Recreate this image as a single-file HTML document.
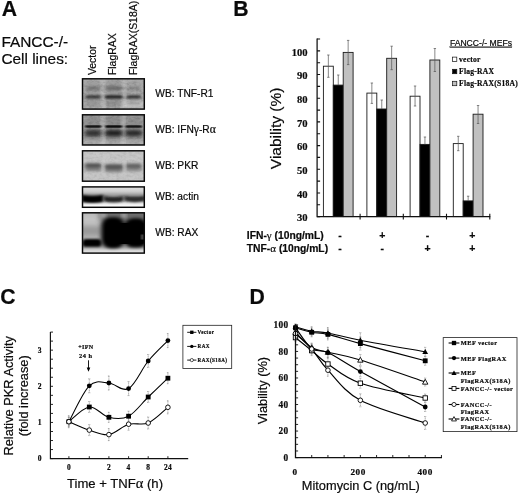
<!DOCTYPE html>
<html lang="en"><head><meta charset="utf-8"><title>Figure</title>
<style>html,body{margin:0;padding:0;background:#fff}svg{display:block;will-change:transform;filter:blur(0.3px)}text{fill:#0a0a0a;stroke:#0a0a0a;stroke-width:.2px}</style>
</head><body>
<svg width="520" height="495" viewBox="0 0 520 495">
<rect width="520" height="495" fill="#fff"/>
<defs><linearGradient id="g3" x1="0" y1="0" x2="0" y2="1"><stop offset="0" stop-color="#dcdcdc"/><stop offset="0.35" stop-color="#cfcfcf"/><stop offset="0.8" stop-color="#e8e8e8"/><stop offset="1" stop-color="#f2f2f2"/></linearGradient></defs>
<g id="panelA">
<text x="1.7" y="15.8" font-family='"Liberation Sans", sans-serif' font-weight="bold" font-size="21.2">A</text>
<text x="1.4" y="46.7" font-family='"Liberation Sans", sans-serif' font-size="15.4">FANCC-/-</text>
<text x="1.4" y="63.9" font-family='"Liberation Sans", sans-serif' font-size="15.4">Cell lines:</text>
<text transform="translate(95.6 75.1) rotate(-90)" font-family='"Liberation Sans", sans-serif' font-size="10.45">Vector</text>
<text transform="translate(116.1 75.1) rotate(-90)" font-family='"Liberation Sans", sans-serif' font-size="10.45">FlagRAX</text>
<text transform="translate(136.9 75.1) rotate(-90)" font-family='"Liberation Sans", sans-serif' font-size="10.45">FlagRAX(S18A)</text>
<text x="155.3" y="97.3" font-family='"Liberation Sans", sans-serif' font-size="10.2">WB: TNF-R1</text>
<text x="155.3" y="132.6" font-family='"Liberation Sans", sans-serif' font-size="10.2">WB: IFN<tspan font-family='"Liberation Serif", serif' font-size="11.6">γ</tspan>-R<tspan font-family='"Liberation Serif", serif' font-size="11.6">α</tspan></text>
<text x="155.3" y="169.0" font-family='"Liberation Sans", sans-serif' font-size="10.2">WB: PKR</text>
<text x="155.3" y="199.9" font-family='"Liberation Sans", sans-serif' font-size="10.2">WB: actin</text>
<text x="155.3" y="236.2" font-family='"Liberation Sans", sans-serif' font-size="10.2">WB: RAX</text>
<defs>
<filter id="b0" x="-40%" y="-300%" width="180%" height="700%"><feGaussianBlur stdDeviation="1.2 0.55"/></filter>
<filter id="b1" x="-40%" y="-300%" width="180%" height="700%"><feGaussianBlur stdDeviation="1.6 0.9"/></filter>
<filter id="b2" x="-40%" y="-300%" width="180%" height="700%"><feGaussianBlur stdDeviation="1.9 1.5"/></filter>
<filter id="b3" x="-40%" y="-300%" width="180%" height="700%"><feGaussianBlur stdDeviation="2.4 2.4"/></filter>
<filter id="b4" x="-40%" y="-300%" width="180%" height="700%"><feGaussianBlur stdDeviation="3.5 3.5"/></filter>
<filter id="bv" x="-40%" y="-300%" width="180%" height="700%"><feGaussianBlur stdDeviation="1.6 3.0"/></filter>
<filter id="nzd" x="0" y="0" width="100%" height="100%"><feTurbulence type="fractalNoise" baseFrequency="0.3 0.4" numOctaves="2" seed="11"/><feColorMatrix type="matrix" values="0 0 0 0 0  0 0 0 0 0  0 0 0 0 0  1.5 0 0 0 -0.58"/></filter>
<filter id="nzl" x="0" y="0" width="100%" height="100%"><feTurbulence type="fractalNoise" baseFrequency="0.28 0.38" numOctaves="2" seed="29"/><feColorMatrix type="matrix" values="0 0 0 0 1  0 0 0 0 1  0 0 0 0 1  0 1.5 0 0 -0.6"/></filter>
<clipPath id="cb0"><rect x="82.5" y="78.8" width="61.8" height="30.3"/></clipPath>
<clipPath id="cb1"><rect x="82.5" y="114.8" width="61.8" height="30.2"/></clipPath>
<clipPath id="cb2"><rect x="82.5" y="150.8" width="61.8" height="30.4"/></clipPath>
<clipPath id="cb3"><rect x="82.5" y="186.9" width="61.8" height="20.4"/></clipPath>
<clipPath id="cb4"><rect x="82.5" y="212.8" width="61.8" height="40.3"/></clipPath>
</defs>
<rect x="82.5" y="78.8" width="61.8" height="30.3" fill="#b0b0b0"/>
<g clip-path="url(#cb0)">
<rect x="82.5" y="78.8" width="61.8" height="30.3" filter="url(#nzd)" opacity="0.22"/>
<rect x="82.5" y="78.8" width="61.8" height="30.3" filter="url(#nzl)" opacity="0.2"/>
<rect x="85.2" y="78.8" width="16" height="30.3" fill="#6e6e6e" opacity="0.25" filter="url(#b3)"/>
<rect x="105.8" y="78.8" width="16" height="30.3" fill="#6e6e6e" opacity="0.32" filter="url(#b3)"/>
<rect x="125.6" y="78.8" width="16" height="30.3" fill="#6e6e6e" opacity="0.18" filter="url(#b3)"/>
<rect x="101.6" y="78.8" width="2.8" height="30.3" fill="#fff" opacity="0.3" filter="url(#b2)"/>
<rect x="123.0" y="78.8" width="2.8" height="30.3" fill="#fff" opacity="0.3" filter="url(#b2)"/>
<rect x="122" y="101" width="24" height="9" fill="#fff" opacity="0.25" filter="url(#b3)"/>
<rect x="85.95" y="86.8" width="14.5" height="3" rx="1.5" fill="#444" opacity="0.6" filter="url(#b2)"/>
<rect x="85.45" y="95.3" width="15.5" height="3.2" rx="1.6" fill="#1c1c1c" opacity="0.8" filter="url(#b1)"/>
<rect x="86.45" y="101.5" width="13.5" height="3" rx="1.5" fill="#606060" opacity="0.2" filter="url(#b2)"/>
<rect x="105.05" y="86.8" width="17.5" height="3" rx="1.5" fill="#444" opacity="0.75" filter="url(#b2)"/>
<rect x="104.55" y="95.3" width="18.5" height="3.2" rx="1.6" fill="#1c1c1c" opacity="0.97" filter="url(#b1)"/>
<rect x="105.55" y="101.5" width="16.5" height="3" rx="1.5" fill="#606060" opacity="0.3" filter="url(#b2)"/>
<rect x="126.85" y="86.8" width="13.5" height="3" rx="1.5" fill="#444" opacity="0.4" filter="url(#b2)"/>
<rect x="126.35" y="95.3" width="14.5" height="3.2" rx="1.6" fill="#1c1c1c" opacity="0.85" filter="url(#b1)"/>
<rect x="127.35" y="101.5" width="12.5" height="3" rx="1.5" fill="#606060" opacity="0.12" filter="url(#b2)"/>
</g>
<rect x="82.5" y="78.8" width="61.8" height="30.3" fill="none" stroke="#080808" stroke-width="1.45"/>
<rect x="82.5" y="114.8" width="61.8" height="30.2" fill="#a2a2a2"/>
<g clip-path="url(#cb1)">
<rect x="82.5" y="114.8" width="61.8" height="30.2" filter="url(#nzd)" opacity="0.22"/>
<rect x="82.5" y="114.8" width="61.8" height="30.2" filter="url(#nzl)" opacity="0.18"/>
<rect x="84.9" y="114.8" width="16.6" height="30.2" fill="#5c5c5c" opacity="0.3" filter="url(#b3)"/>
<rect x="105.5" y="114.8" width="16.6" height="30.2" fill="#5c5c5c" opacity="0.36" filter="url(#b3)"/>
<rect x="125.3" y="114.8" width="16.6" height="30.2" fill="#5c5c5c" opacity="0.3" filter="url(#b3)"/>
<rect x="101.5" y="114.8" width="2.8" height="30.2" fill="#fff" opacity="0.38" filter="url(#b2)"/>
<rect x="122.0" y="114.8" width="2.8" height="30.2" fill="#fff" opacity="0.38" filter="url(#b2)"/>
<rect x="82.5" y="139.5" width="61.8" height="6" fill="#fff" opacity="0.22" filter="url(#b2)"/>
<rect x="85.2" y="130.1" width="16" height="6.2" rx="2" fill="#1e1e1e" opacity="0.8" filter="url(#b2)"/>
<rect x="85.2" y="125.25" width="16" height="2.5" rx="1.25" fill="#0c0c0c" opacity="0.92" filter="url(#b0)"/>
<rect x="105.3" y="130.1" width="17" height="6.2" rx="2" fill="#1e1e1e" opacity="0.95" filter="url(#b2)"/>
<rect x="105.3" y="125.25" width="17" height="2.5" rx="1.25" fill="#0c0c0c" opacity="1" filter="url(#b0)"/>
<rect x="125.35" y="130.1" width="16.5" height="6.2" rx="2" fill="#1e1e1e" opacity="0.85" filter="url(#b2)"/>
<rect x="125.35" y="125.25" width="16.5" height="2.5" rx="1.25" fill="#0c0c0c" opacity="0.92" filter="url(#b0)"/>
</g>
<rect x="82.5" y="114.8" width="61.8" height="30.2" fill="none" stroke="#080808" stroke-width="1.45"/>
<rect x="82.5" y="150.8" width="61.8" height="30.4" fill="#c6c6c6"/>
<g clip-path="url(#cb2)">
<rect x="82.5" y="150.8" width="61.8" height="30.4" filter="url(#nzd)" opacity="0.1"/>
<rect x="82.5" y="150.8" width="61.8" height="30.4" filter="url(#nzl)" opacity="0.1"/>
<rect x="84.95" y="162.9" width="16.5" height="8" rx="2" fill="#6a6a6a" opacity="0.85" filter="url(#b2)"/>
<rect x="85.45" y="164.1" width="15.5" height="3.2" rx="1.6" fill="#484848" opacity="0.75" filter="url(#b1)"/>
<rect x="104.55" y="164.1" width="18.5" height="8" rx="2" fill="#6a6a6a" opacity="0.9" filter="url(#b2)"/>
<rect x="105.05" y="165.3" width="17.5" height="3.2" rx="1.6" fill="#484848" opacity="0.75" filter="url(#b1)"/>
<rect x="125.6" y="163.3" width="16" height="8" rx="2" fill="#6a6a6a" opacity="0.72" filter="url(#b2)"/>
<rect x="126.1" y="164.5" width="15" height="3.2" rx="1.6" fill="#484848" opacity="0.6" filter="url(#b1)"/>
<rect x="102.0" y="159" width="2.4" height="17" fill="#d0d0d0" opacity="0.55" filter="url(#b1)"/>
<rect x="123.39999999999999" y="159" width="2.4" height="17" fill="#d0d0d0" opacity="0.55" filter="url(#b1)"/>
</g>
<rect x="82.5" y="150.8" width="61.8" height="30.4" fill="none" stroke="#080808" stroke-width="1.45"/>
<rect x="82.5" y="186.9" width="61.8" height="20.4" fill="#e6e6e6"/>
<g clip-path="url(#cb3)">
<rect x="82.5" y="186.9" width="61.8" height="20.4" fill="url(#g3)"/>
<rect x="79.5" y="193.2" width="67.8" height="8" fill="#707070" opacity="0.55" filter="url(#b2)"/>
<path d="M81.65 194.8Q92.4 196.6 103.15 194.8L103.15 201.95Q92.4 204.2 81.65 201.95Z" fill="#050505" opacity="1" filter="url(#b1)"/>
<path d="M103.85 196Q113.6 198 123.35 196L123.35 201.3Q113.6 203.8 103.85 201.3Z" fill="#181818" opacity="0.9" filter="url(#b1)"/>
<path d="M124.55 195.65Q134.8 197.45 145.05 195.65L145.05 201.1Q134.8 203.35 124.55 201.1Z" fill="#1e1e1e" opacity="0.88" filter="url(#b1)"/>
<rect x="82.5" y="204.6" width="61.8" height="3.4" fill="#fff" opacity="0.6" filter="url(#b1)"/>
</g>
<rect x="82.5" y="186.9" width="61.8" height="20.4" fill="none" stroke="#080808" stroke-width="1.45"/>
<rect x="82.5" y="212.8" width="61.8" height="40.3" fill="#969696"/>
<g clip-path="url(#cb4)">
<rect x="78.5" y="210.8" width="24" height="30" fill="#cfcfcf" opacity="0.8" filter="url(#b4)"/>
<rect x="99" y="210.8" width="49" height="10" fill="#505050" opacity="0.6" filter="url(#b3)"/>
<rect x="101.5" y="212.8" width="4" height="5" fill="#fff" opacity="0.5" filter="url(#b2)"/>
<rect x="122.0" y="212.8" width="4" height="5" fill="#fff" opacity="0.5" filter="url(#b2)"/>
<rect x="79.5" y="248.6" width="67.8" height="7" fill="#e2e2e2" opacity="0.95" filter="url(#b2)"/>
<rect x="79.5" y="226" width="23" height="10" fill="#707070" opacity="0.5" filter="url(#b3)"/>
<rect x="82.2" y="239.0" width="19.4" height="7.8" rx="3.9" fill="#030303" filter="url(#b1)"/>
<rect x="101.4" y="217.2" width="23.6" height="31" rx="9" fill="#000" filter="url(#b2)"/>
<rect x="123.8" y="218.2" width="24" height="29.4" rx="9" fill="#000" filter="url(#b2)"/>
<rect x="105.5" y="223" width="41" height="21" rx="5" fill="#000"/>
<rect x="141.6" y="234.5" width="1.6" height="5" fill="#bbb" opacity="0.7" filter="url(#b0)"/>
</g>
<rect x="82.5" y="212.8" width="61.8" height="40.3" fill="none" stroke="#080808" stroke-width="1.45"/>
</g>
<g id="panelB">
<text x="233.3" y="15.9" font-family='"Liberation Sans", sans-serif' font-weight="bold" font-size="21.2">B</text>
<text transform="translate(281.3 128.4) rotate(-90)" text-anchor="middle" font-family='"Liberation Sans", sans-serif' font-size="15.5">Viability (%)</text>
<rect x="323.4" y="66.2" width="9.9" height="150.4" fill="#ffffff" stroke="#1a1a1a" stroke-width="0.9"/>
<rect x="333.3" y="85.1" width="9.9" height="131.5" fill="#000000" stroke="#1a1a1a" stroke-width="0.9"/>
<rect x="343.2" y="52.4" width="9.9" height="164.2" fill="#c0c0c0" stroke="#1a1a1a" stroke-width="0.9"/>
<path d="M328.35 55V77.3M327.15 55h2.4M327.15 77.3h2.4" stroke="#555" stroke-width="0.7" fill="none"/>
<path d="M338.25 75V85.1M337.05 75h2.4" stroke="#555" stroke-width="0.7" fill="none"/>
<path d="M348.15 40.4V64.6M346.95 40.4h2.4M346.95 64.6h2.4" stroke="#555" stroke-width="0.7" fill="none"/>
<rect x="366.9" y="93.1" width="9.9" height="123.5" fill="#ffffff" stroke="#1a1a1a" stroke-width="0.9"/>
<rect x="376.8" y="109" width="9.9" height="107.6" fill="#000000" stroke="#1a1a1a" stroke-width="0.9"/>
<rect x="386.7" y="58.3" width="9.9" height="158.3" fill="#c0c0c0" stroke="#1a1a1a" stroke-width="0.9"/>
<path d="M371.85 83V103.4M370.65 83h2.4M370.65 103.4h2.4" stroke="#555" stroke-width="0.7" fill="none"/>
<path d="M381.75 100V109M380.55 100h2.4" stroke="#555" stroke-width="0.7" fill="none"/>
<path d="M391.65 46.2V69.7M390.45 46.2h2.4M390.45 69.7h2.4" stroke="#555" stroke-width="0.7" fill="none"/>
<rect x="410.1" y="96.2" width="9.9" height="120.4" fill="#ffffff" stroke="#1a1a1a" stroke-width="0.9"/>
<rect x="420" y="144.4" width="9.9" height="72.2" fill="#000000" stroke="#1a1a1a" stroke-width="0.9"/>
<rect x="429.9" y="60" width="9.9" height="156.6" fill="#c0c0c0" stroke="#1a1a1a" stroke-width="0.9"/>
<path d="M415.05 86V106M413.85 86h2.4M413.85 106h2.4" stroke="#555" stroke-width="0.7" fill="none"/>
<path d="M424.95 137V144.4M423.75 137h2.4" stroke="#555" stroke-width="0.7" fill="none"/>
<path d="M434.85 48.5V71.5M433.65 48.5h2.4M433.65 71.5h2.4" stroke="#555" stroke-width="0.7" fill="none"/>
<rect x="453.3" y="143.6" width="9.9" height="73" fill="#ffffff" stroke="#1a1a1a" stroke-width="0.9"/>
<rect x="463.2" y="200.9" width="9.9" height="15.7" fill="#000000" stroke="#1a1a1a" stroke-width="0.9"/>
<rect x="473.1" y="114.2" width="9.9" height="102.4" fill="#c0c0c0" stroke="#1a1a1a" stroke-width="0.9"/>
<path d="M458.25 136.3V150.7M457.05 136.3h2.4M457.05 150.7h2.4" stroke="#555" stroke-width="0.7" fill="none"/>
<path d="M468.15 196.2V200.9M466.95 196.2h2.4" stroke="#555" stroke-width="0.7" fill="none"/>
<path d="M478.05 105.5V123.5M476.85 105.5h2.4M476.85 123.5h2.4" stroke="#555" stroke-width="0.7" fill="none"/>
<path d="M317.1 38.46V216.6H490.3" stroke="#111" stroke-width="1.25" fill="none"/>
<path d="M317.0 216.6h3.1M317.0 204.76h3.1M317.0 192.93h3.1M317.0 181.09h3.1M317.0 169.26h3.1M317.0 157.42h3.1M317.0 145.59h3.1M317.0 133.75h3.1M317.0 121.91h3.1M317.0 110.08h3.1M317.0 98.24h3.1M317.0 86.41h3.1M317.0 74.57h3.1M317.0 62.74h3.1M317.0 50.9h3.1M317.0 39.06h3.1" stroke="#111" stroke-width="1.1" fill="none"/>
<path d="M360.1 213.8v5.8M403.3 213.8v5.8M446.5 213.8v5.8M489.8 213.8v5.8" stroke="#111" stroke-width="1.1" fill="none"/>
<text x="307.6" y="221.2" text-anchor="end" font-family='"Liberation Serif", serif' font-weight="bold" font-size="10.6">30</text>
<text x="307.6" y="197.53" text-anchor="end" font-family='"Liberation Serif", serif' font-weight="bold" font-size="10.6">40</text>
<text x="307.6" y="173.86" text-anchor="end" font-family='"Liberation Serif", serif' font-weight="bold" font-size="10.6">50</text>
<text x="307.6" y="150.19" text-anchor="end" font-family='"Liberation Serif", serif' font-weight="bold" font-size="10.6">60</text>
<text x="307.6" y="126.51" text-anchor="end" font-family='"Liberation Serif", serif' font-weight="bold" font-size="10.6">70</text>
<text x="307.6" y="102.84" text-anchor="end" font-family='"Liberation Serif", serif' font-weight="bold" font-size="10.6">80</text>
<text x="307.6" y="79.17" text-anchor="end" font-family='"Liberation Serif", serif' font-weight="bold" font-size="10.6">90</text>
<text x="307.6" y="55.5" text-anchor="end" font-family='"Liberation Serif", serif' font-weight="bold" font-size="10.6">100</text>
<text x="246.8" y="239.4" font-family='"Liberation Sans", sans-serif' font-weight="bold" font-size="10.3">IFN-<tspan font-family='"Liberation Serif", serif' font-weight="normal" font-size="11">γ</tspan> (10ng/mL)</text>
<text x="246.8" y="252.3" font-family='"Liberation Sans", sans-serif' font-weight="bold" font-size="10.3">TNF-<tspan font-family='"Liberation Serif", serif' font-weight="normal" font-size="11">α</tspan> (10ng/mL)</text>
<text x="340.0" y="239.3" text-anchor="middle" font-family='"Liberation Sans", sans-serif' font-weight="bold" font-size="10.5">-</text>
<text x="340.0" y="252.2" text-anchor="middle" font-family='"Liberation Sans", sans-serif' font-weight="bold" font-size="10.5">-</text>
<text x="382.3" y="239.3" text-anchor="middle" font-family='"Liberation Sans", sans-serif' font-weight="bold" font-size="10.5">+</text>
<text x="382.3" y="252.2" text-anchor="middle" font-family='"Liberation Sans", sans-serif' font-weight="bold" font-size="10.5">-</text>
<text x="427.6" y="239.3" text-anchor="middle" font-family='"Liberation Sans", sans-serif' font-weight="bold" font-size="10.5">-</text>
<text x="427.6" y="252.2" text-anchor="middle" font-family='"Liberation Sans", sans-serif' font-weight="bold" font-size="10.5">+</text>
<text x="472.2" y="239.3" text-anchor="middle" font-family='"Liberation Sans", sans-serif' font-weight="bold" font-size="10.5">+</text>
<text x="472.2" y="252.2" text-anchor="middle" font-family='"Liberation Sans", sans-serif' font-weight="bold" font-size="10.5">+</text>
<text x="449.9" y="45.7" font-family='"Liberation Sans", sans-serif' font-size="8.6" text-decoration="underline">FANCC-/- MEFs</text>
<rect x="452.6" y="57.1" width="4.2" height="4.4" fill="#fff" stroke="#111" stroke-width="0.7"/>
<text x="459.0" y="61.9" font-family='"Liberation Serif", serif' font-weight="bold" font-size="7.6" letter-spacing="0.24" stroke="#000" stroke-width="0.12">vector</text>
<rect x="452.6" y="69.3" width="4.2" height="4.4" fill="#000" stroke="#111" stroke-width="0.7"/>
<text x="459.0" y="74.1" font-family='"Liberation Serif", serif' font-weight="bold" font-size="7.6" letter-spacing="0.24" stroke="#000" stroke-width="0.12">Flag-RAX</text>
<rect x="452.6" y="81.3" width="4.2" height="4.4" fill="#c0c0c0" stroke="#111" stroke-width="0.7"/>
<text x="459.0" y="86.1" font-family='"Liberation Serif", serif' font-weight="bold" font-size="7.6" letter-spacing="0.24" stroke="#000" stroke-width="0.12">Flag-RAX(S18A)</text>
</g>
<g id="panelC">
<text x="0.2" y="304.0" font-family='"Liberation Sans", sans-serif' font-weight="bold" font-size="21.2">C</text>
<text transform="translate(12.6 395.8) rotate(-90)" text-anchor="middle" font-family='"Liberation Sans", sans-serif' font-size="12.8">Relative PKR Activity</text>
<text transform="translate(28.4 395.8) rotate(-90)" text-anchor="middle" font-family='"Liberation Sans", sans-serif' font-size="12.8">(fold increase)</text>
<path d="M68.9 417.2V426.2M67.9 417.2h2M67.9 426.2h2" stroke="#8e8e8e" stroke-width="0.75" stroke-dasharray="1.1 0.5" fill="none"/>
<path d="M89.3 401.5V412.5M88.3 401.5h2M88.3 412.5h2" stroke="#8e8e8e" stroke-width="0.75" stroke-dasharray="1.1 0.5" fill="none"/>
<path d="M108.9 412.3V422.3M107.9 412.3h2M107.9 422.3h2" stroke="#8e8e8e" stroke-width="0.75" stroke-dasharray="1.1 0.5" fill="none"/>
<path d="M128.6 411.2V421.2M127.6 411.2h2M127.6 421.2h2" stroke="#8e8e8e" stroke-width="0.75" stroke-dasharray="1.1 0.5" fill="none"/>
<path d="M148.2 391.5V402.5M147.2 391.5h2M147.2 402.5h2" stroke="#8e8e8e" stroke-width="0.75" stroke-dasharray="1.1 0.5" fill="none"/>
<path d="M167.9 372.7V383.7M166.9 372.7h2M166.9 383.7h2" stroke="#8e8e8e" stroke-width="0.75" stroke-dasharray="1.1 0.5" fill="none"/>
<path d="M68.9 417.2V426.2M67.9 417.2h2M67.9 426.2h2" stroke="#8e8e8e" stroke-width="0.75" stroke-dasharray="1.1 0.5" fill="none"/>
<path d="M89.3 378.8V392.8M88.3 378.8h2M88.3 392.8h2" stroke="#8e8e8e" stroke-width="0.75" stroke-dasharray="1.1 0.5" fill="none"/>
<path d="M108.9 376V390M107.9 376h2M107.9 390h2" stroke="#8e8e8e" stroke-width="0.75" stroke-dasharray="1.1 0.5" fill="none"/>
<path d="M128.6 381.6V395.6M127.6 381.6h2M127.6 395.6h2" stroke="#8e8e8e" stroke-width="0.75" stroke-dasharray="1.1 0.5" fill="none"/>
<path d="M148.2 354.5V367.5M147.2 354.5h2M147.2 367.5h2" stroke="#8e8e8e" stroke-width="0.75" stroke-dasharray="1.1 0.5" fill="none"/>
<path d="M167.9 333.6V347.6M166.9 333.6h2M166.9 347.6h2" stroke="#8e8e8e" stroke-width="0.75" stroke-dasharray="1.1 0.5" fill="none"/>
<path d="M68.9 415.7V427.7M67.9 415.7h2M67.9 427.7h2" stroke="#8e8e8e" stroke-width="0.75" stroke-dasharray="1.1 0.5" fill="none"/>
<path d="M89.3 424.6V435.6M88.3 424.6h2M88.3 435.6h2" stroke="#8e8e8e" stroke-width="0.75" stroke-dasharray="1.1 0.5" fill="none"/>
<path d="M108.9 428.6V440.6M107.9 428.6h2M107.9 440.6h2" stroke="#8e8e8e" stroke-width="0.75" stroke-dasharray="1.1 0.5" fill="none"/>
<path d="M128.6 418.2V430.2M127.6 418.2h2M127.6 430.2h2" stroke="#8e8e8e" stroke-width="0.75" stroke-dasharray="1.1 0.5" fill="none"/>
<path d="M148.2 417V429M147.2 417h2M147.2 429h2" stroke="#8e8e8e" stroke-width="0.75" stroke-dasharray="1.1 0.5" fill="none"/>
<path d="M167.9 400.8V413.8M166.9 400.8h2M166.9 413.8h2" stroke="#8e8e8e" stroke-width="0.75" stroke-dasharray="1.1 0.5" fill="none"/>
<path d="M68.9 421.7C72.3 419.25 82.63 407.73 89.3 407C95.97 406.27 102.35 415.77 108.9 417.3C115.45 418.83 122.05 419.58 128.6 416.2C135.15 412.82 141.65 403.33 148.2 397C154.75 390.67 164.62 381.33 167.9 378.2" stroke="#000" stroke-width="1.05" fill="none" stroke-linejoin="round"/>
<path d="M68.9 421.7C72.3 415.72 82.63 392.25 89.3 385.8C95.97 379.35 102.35 382.53 108.9 383C115.45 383.47 122.05 392.27 128.6 388.6C135.15 384.93 141.65 369 148.2 361C154.75 353 164.62 344 167.9 340.6" stroke="#000" stroke-width="1.05" fill="none" stroke-linejoin="round"/>
<path d="M68.9 421.7C72.3 423.1 82.63 427.95 89.3 430.1C95.97 432.25 102.35 435.58 108.9 434.6C115.45 433.62 122.05 426.13 128.6 424.2C135.15 422.27 141.65 425.82 148.2 423C154.75 420.18 164.62 409.92 167.9 407.3" stroke="#000" stroke-width="1.05" fill="none" stroke-linejoin="round"/>
<rect x="66.5" y="419.3" width="4.8" height="4.8" fill="#000"/>
<rect x="86.9" y="404.6" width="4.8" height="4.8" fill="#000"/>
<rect x="106.5" y="414.9" width="4.8" height="4.8" fill="#000"/>
<rect x="126.2" y="413.8" width="4.8" height="4.8" fill="#000"/>
<rect x="145.8" y="394.6" width="4.8" height="4.8" fill="#000"/>
<rect x="165.5" y="375.8" width="4.8" height="4.8" fill="#000"/>
<circle cx="68.9" cy="421.7" r="2.4" fill="#000"/>
<circle cx="89.3" cy="385.8" r="2.4" fill="#000"/>
<circle cx="108.9" cy="383" r="2.4" fill="#000"/>
<circle cx="128.6" cy="388.6" r="2.4" fill="#000"/>
<circle cx="148.2" cy="361" r="2.4" fill="#000"/>
<circle cx="167.9" cy="340.6" r="2.4" fill="#000"/>
<circle cx="68.9" cy="421.7" r="2.3" fill="#fff" stroke="#000" stroke-width="0.9"/>
<circle cx="89.3" cy="430.1" r="2.3" fill="#fff" stroke="#000" stroke-width="0.9"/>
<circle cx="108.9" cy="434.6" r="2.3" fill="#fff" stroke="#000" stroke-width="0.9"/>
<circle cx="128.6" cy="424.2" r="2.3" fill="#fff" stroke="#000" stroke-width="0.9"/>
<circle cx="148.2" cy="423" r="2.3" fill="#fff" stroke="#000" stroke-width="0.9"/>
<circle cx="167.9" cy="407.3" r="2.3" fill="#fff" stroke="#000" stroke-width="0.9"/>
<path d="M50.4 331.88V458.6H188.2" stroke="#111" stroke-width="1.15" fill="none"/>
<path d="M50.4 458.6h2.6M50.4 449.56h2.6M50.4 440.53h2.6M50.4 431.49h2.6M50.4 422.45h2.6M50.4 413.41h2.6M50.4 404.38h2.6M50.4 395.34h2.6M50.4 386.3h2.6M50.4 377.26h2.6M50.4 368.23h2.6M50.4 359.19h2.6M50.4 350.15h2.6M50.4 341.11h2.6M50.4 332.08h2.6M68.9 458.6v-2.4M89.3 458.6v-2.4M108.9 458.6v-2.4M128.6 458.6v-2.4M148.2 458.6v-2.4M167.9 458.6v-2.4" stroke="#111" stroke-width="0.9" fill="none"/>
<text x="39.6" y="461.1" text-anchor="middle" font-family='"Liberation Serif", serif' font-weight="bold" font-size="7.6">0</text>
<text x="39.6" y="424.95" text-anchor="middle" font-family='"Liberation Serif", serif' font-weight="bold" font-size="7.6">1</text>
<text x="39.6" y="388.8" text-anchor="middle" font-family='"Liberation Serif", serif' font-weight="bold" font-size="7.6">2</text>
<text x="39.6" y="352.65" text-anchor="middle" font-family='"Liberation Serif", serif' font-weight="bold" font-size="7.6">3</text>
<text x="68.9" y="470.0" text-anchor="middle" font-family='"Liberation Serif", serif' font-weight="bold" font-size="7.4" letter-spacing="0.3">0</text>
<text x="108.9" y="470.0" text-anchor="middle" font-family='"Liberation Serif", serif' font-weight="bold" font-size="7.4" letter-spacing="0.3">2</text>
<text x="128.6" y="470.0" text-anchor="middle" font-family='"Liberation Serif", serif' font-weight="bold" font-size="7.4" letter-spacing="0.3">4</text>
<text x="148.2" y="470.0" text-anchor="middle" font-family='"Liberation Serif", serif' font-weight="bold" font-size="7.4" letter-spacing="0.3">8</text>
<text x="167.9" y="470.0" text-anchor="middle" font-family='"Liberation Serif", serif' font-weight="bold" font-size="7.4" letter-spacing="0.3">24</text>
<text x="67.0" y="487.8" font-family='"Liberation Sans", sans-serif' font-size="13.1">Time + TNF<tspan font-family='"Liberation Serif", serif' font-size="14.5">α</tspan> (h)</text>
<text x="85.8" y="349.4" text-anchor="middle" font-family='"Liberation Serif", serif' font-weight="bold" font-size="6" letter-spacing="0.3">+IFN</text>
<text x="85.8" y="358.0" text-anchor="middle" font-family='"Liberation Serif", serif' font-weight="bold" font-size="6.4" letter-spacing="0.5">24 h</text>
<path d="M88.5 360.3V369.5" stroke="#000" stroke-width="0.9" fill="none"/><path d="M86.7 367.6L88.5 371.8L90.3 367.6Z" fill="#000"/>
<rect x="182.9" y="325.3" width="48.8" height="43.3" fill="#fff" stroke="#222" stroke-width="0.8"/>
<path d="M187.2 332.3H196.4" stroke="#000" stroke-width="0.9"/>
<rect x="190.12" y="330.62" width="3.36" height="3.36" fill="#000"/>
<text x="197.6" y="334" font-family='"Liberation Serif", serif' font-weight="bold" font-size="5.1" letter-spacing="0.42" stroke="#000" stroke-width="0.12">Vector</text>
<path d="M187.2 346.4H196.4" stroke="#000" stroke-width="0.9"/>
<circle cx="191.8" cy="346.4" r="1.68" fill="#000"/>
<text x="197.6" y="348.1" font-family='"Liberation Serif", serif' font-weight="bold" font-size="5.1" letter-spacing="0.42" stroke="#000" stroke-width="0.12">RAX</text>
<path d="M187.2 360.1H196.4" stroke="#000" stroke-width="0.9"/>
<circle cx="191.8" cy="360.1" r="1.61" fill="#fff" stroke="#000" stroke-width="0.63"/>
<text x="197.6" y="361.8" font-family='"Liberation Serif", serif' font-weight="bold" font-size="5.1" letter-spacing="0.42" stroke="#000" stroke-width="0.12">RAX(S18A)</text>
</g>
<g id="panelD">
<text x="249.6" y="303.5" font-family='"Liberation Sans", sans-serif' font-weight="bold" font-size="21.2">D</text>
<text transform="translate(267.2 390.6) rotate(-90)" text-anchor="middle" font-family='"Liberation Sans", sans-serif' font-size="12.8">Viability (%)</text>
<path d="M295.5 323.8V329.8M294.5 323.8h2M294.5 329.8h2" stroke="#8e8e8e" stroke-width="0.75" stroke-dasharray="1.1 0.5" fill="none"/>
<path d="M311.71 326.7V335.7M310.71 326.7h2M310.71 335.7h2" stroke="#8e8e8e" stroke-width="0.75" stroke-dasharray="1.1 0.5" fill="none"/>
<path d="M327.93 327.5V338.5M326.93 327.5h2M326.93 338.5h2" stroke="#8e8e8e" stroke-width="0.75" stroke-dasharray="1.1 0.5" fill="none"/>
<path d="M360.36 332.7V347.7M359.36 332.7h2M359.36 347.7h2" stroke="#8e8e8e" stroke-width="0.75" stroke-dasharray="1.1 0.5" fill="none"/>
<path d="M425.22 347.3V356.3M424.22 347.3h2M424.22 356.3h2" stroke="#8e8e8e" stroke-width="0.75" stroke-dasharray="1.1 0.5" fill="none"/>
<path d="M295.5 324.8V330.8M294.5 324.8h2M294.5 330.8h2" stroke="#8e8e8e" stroke-width="0.75" stroke-dasharray="1.1 0.5" fill="none"/>
<path d="M311.71 327.8V336.8M310.71 327.8h2M310.71 336.8h2" stroke="#8e8e8e" stroke-width="0.75" stroke-dasharray="1.1 0.5" fill="none"/>
<path d="M327.93 328.9V339.9M326.93 328.9h2M326.93 339.9h2" stroke="#8e8e8e" stroke-width="0.75" stroke-dasharray="1.1 0.5" fill="none"/>
<path d="M360.36 337.1V350.1M359.36 337.1h2M359.36 350.1h2" stroke="#8e8e8e" stroke-width="0.75" stroke-dasharray="1.1 0.5" fill="none"/>
<path d="M425.22 356.3V365.3M424.22 356.3h2M424.22 365.3h2" stroke="#8e8e8e" stroke-width="0.75" stroke-dasharray="1.1 0.5" fill="none"/>
<path d="M295.5 329.4V335.4M294.5 329.4h2M294.5 335.4h2" stroke="#8e8e8e" stroke-width="0.75" stroke-dasharray="1.1 0.5" fill="none"/>
<path d="M311.71 343.1V352.1M310.71 343.1h2M310.71 352.1h2" stroke="#8e8e8e" stroke-width="0.75" stroke-dasharray="1.1 0.5" fill="none"/>
<path d="M327.93 347.2V357.2M326.93 347.2h2M326.93 357.2h2" stroke="#8e8e8e" stroke-width="0.75" stroke-dasharray="1.1 0.5" fill="none"/>
<path d="M360.36 354.5V365.5M359.36 354.5h2M359.36 365.5h2" stroke="#8e8e8e" stroke-width="0.75" stroke-dasharray="1.1 0.5" fill="none"/>
<path d="M425.22 378V386M424.22 378h2M424.22 386h2" stroke="#8e8e8e" stroke-width="0.75" stroke-dasharray="1.1 0.5" fill="none"/>
<path d="M295.5 324.6V330.6M294.5 324.6h2M294.5 330.6h2" stroke="#8e8e8e" stroke-width="0.75" stroke-dasharray="1.1 0.5" fill="none"/>
<path d="M311.71 344.1V353.1M310.71 344.1h2M310.71 353.1h2" stroke="#8e8e8e" stroke-width="0.75" stroke-dasharray="1.1 0.5" fill="none"/>
<path d="M327.93 347.6V357.6M326.93 347.6h2M326.93 357.6h2" stroke="#8e8e8e" stroke-width="0.75" stroke-dasharray="1.1 0.5" fill="none"/>
<path d="M360.36 366.6V376.6M359.36 366.6h2M359.36 376.6h2" stroke="#8e8e8e" stroke-width="0.75" stroke-dasharray="1.1 0.5" fill="none"/>
<path d="M425.22 402.5V411.5M424.22 402.5h2M424.22 411.5h2" stroke="#8e8e8e" stroke-width="0.75" stroke-dasharray="1.1 0.5" fill="none"/>
<path d="M295.5 334.1V341.1M294.5 334.1h2M294.5 341.1h2" stroke="#8e8e8e" stroke-width="0.75" stroke-dasharray="1.1 0.5" fill="none"/>
<path d="M311.71 345.6V355.6M310.71 345.6h2M310.71 355.6h2" stroke="#8e8e8e" stroke-width="0.75" stroke-dasharray="1.1 0.5" fill="none"/>
<path d="M327.93 358V370M326.93 358h2M326.93 370h2" stroke="#8e8e8e" stroke-width="0.75" stroke-dasharray="1.1 0.5" fill="none"/>
<path d="M360.36 378.2V388.2M359.36 378.2h2M359.36 388.2h2" stroke="#8e8e8e" stroke-width="0.75" stroke-dasharray="1.1 0.5" fill="none"/>
<path d="M425.22 394V402M424.22 394h2M424.22 402h2" stroke="#8e8e8e" stroke-width="0.75" stroke-dasharray="1.1 0.5" fill="none"/>
<path d="M295.5 330V337M294.5 330h2M294.5 337h2" stroke="#8e8e8e" stroke-width="0.75" stroke-dasharray="1.1 0.5" fill="none"/>
<path d="M311.71 344V354M310.71 344h2M310.71 354h2" stroke="#8e8e8e" stroke-width="0.75" stroke-dasharray="1.1 0.5" fill="none"/>
<path d="M327.93 364.2V376.2M326.93 364.2h2M326.93 376.2h2" stroke="#8e8e8e" stroke-width="0.75" stroke-dasharray="1.1 0.5" fill="none"/>
<path d="M360.36 393.8V406.8M359.36 393.8h2M359.36 406.8h2" stroke="#8e8e8e" stroke-width="0.75" stroke-dasharray="1.1 0.5" fill="none"/>
<path d="M425.22 416.5V429.5M424.22 416.5h2M424.22 429.5h2" stroke="#8e8e8e" stroke-width="0.75" stroke-dasharray="1.1 0.5" fill="none"/>
<path d="M295.5 326.8C298.2 327.53 306.31 330.17 311.71 331.2C317.12 332.23 319.82 331.5 327.93 333C336.04 334.5 344.14 337.07 360.36 340.2C376.58 343.33 414.41 349.87 425.22 351.8" stroke="#000" stroke-width="1.15" fill="none" stroke-linejoin="round"/>
<path d="M295.5 327.8C298.2 328.55 306.31 331.2 311.71 332.3C317.12 333.4 319.82 332.52 327.93 334.4C336.04 336.28 344.14 339.2 360.36 343.6C376.58 348 414.41 357.93 425.22 360.8" stroke="#000" stroke-width="1.15" fill="none" stroke-linejoin="round"/>
<path d="M295.5 332.4C298.2 334.93 306.31 344.3 311.71 347.6C317.12 350.9 319.82 350.13 327.93 352.2C336.04 354.27 344.14 355.03 360.36 360C376.58 364.97 414.41 378.33 425.22 382" stroke="#000" stroke-width="1.15" fill="none" stroke-linejoin="round"/>
<path d="M295.5 327.6C298.2 331.1 306.31 344.43 311.71 348.6C317.12 352.77 319.82 348.77 327.93 352.6C336.04 356.43 344.14 362.53 360.36 371.6C376.58 380.67 414.41 401.1 425.22 407" stroke="#000" stroke-width="1.15" fill="none" stroke-linejoin="round"/>
<path d="M295.5 337.6C298.2 339.77 306.31 346.2 311.71 350.6C317.12 355 319.82 358.57 327.93 364C336.04 369.43 344.14 377.53 360.36 383.2C376.58 388.87 414.41 395.53 425.22 398" stroke="#000" stroke-width="1.15" fill="none" stroke-linejoin="round"/>
<path d="M295.5 333.5C298.2 336.08 306.31 342.88 311.71 349C317.12 355.12 319.82 361.65 327.93 370.2C336.04 378.75 344.14 391.5 360.36 400.3C376.58 409.1 414.41 419.22 425.22 423" stroke="#000" stroke-width="1.15" fill="none" stroke-linejoin="round"/>
<path d="M295.5 323.9L298.4 329.12H292.6Z" fill="#000"/>
<path d="M311.71 328.3L314.61 333.52H308.81Z" fill="#000"/>
<path d="M327.93 330.1L330.83 335.32H325.03Z" fill="#000"/>
<path d="M360.36 337.3L363.26 342.52H357.46Z" fill="#000"/>
<path d="M425.22 348.9L428.12 354.12H422.32Z" fill="#000"/>
<rect x="293.1" y="325.4" width="4.8" height="4.8" fill="#000"/>
<rect x="309.31" y="329.9" width="4.8" height="4.8" fill="#000"/>
<rect x="325.53" y="332" width="4.8" height="4.8" fill="#000"/>
<rect x="357.96" y="341.2" width="4.8" height="4.8" fill="#000"/>
<rect x="422.82" y="358.4" width="4.8" height="4.8" fill="#000"/>
<path d="M295.5 329.7L298.2 334.56H292.8Z" fill="#fff" stroke="#000" stroke-width="0.9"/>
<path d="M311.71 344.9L314.41 349.76H309.01Z" fill="#fff" stroke="#000" stroke-width="0.9"/>
<path d="M327.93 349.5L330.63 354.36H325.23Z" fill="#fff" stroke="#000" stroke-width="0.9"/>
<path d="M360.36 357.3L363.06 362.16H357.66Z" fill="#fff" stroke="#000" stroke-width="0.9"/>
<path d="M425.22 379.3L427.92 384.16H422.52Z" fill="#fff" stroke="#000" stroke-width="0.9"/>
<circle cx="295.5" cy="327.6" r="2.4" fill="#000"/>
<circle cx="311.71" cy="348.6" r="2.4" fill="#000"/>
<circle cx="327.93" cy="352.6" r="2.4" fill="#000"/>
<circle cx="360.36" cy="371.6" r="2.4" fill="#000"/>
<circle cx="425.22" cy="407" r="2.4" fill="#000"/>
<rect x="293.3" y="335.4" width="4.4" height="4.4" fill="#fff" stroke="#000" stroke-width="0.9"/>
<rect x="309.51" y="348.4" width="4.4" height="4.4" fill="#fff" stroke="#000" stroke-width="0.9"/>
<rect x="325.73" y="361.8" width="4.4" height="4.4" fill="#fff" stroke="#000" stroke-width="0.9"/>
<rect x="358.16" y="381" width="4.4" height="4.4" fill="#fff" stroke="#000" stroke-width="0.9"/>
<rect x="423.02" y="395.8" width="4.4" height="4.4" fill="#fff" stroke="#000" stroke-width="0.9"/>
<circle cx="295.5" cy="333.5" r="2.3" fill="#fff" stroke="#000" stroke-width="0.9"/>
<circle cx="311.71" cy="349" r="2.3" fill="#fff" stroke="#000" stroke-width="0.9"/>
<circle cx="327.93" cy="370.2" r="2.3" fill="#fff" stroke="#000" stroke-width="0.9"/>
<circle cx="360.36" cy="400.3" r="2.3" fill="#fff" stroke="#000" stroke-width="0.9"/>
<circle cx="425.22" cy="423" r="2.3" fill="#fff" stroke="#000" stroke-width="0.9"/>
<path d="M295.5 324.4V457.6H442" stroke="#111" stroke-width="1.3" fill="none"/>
<path d="M295.5 457.6h2.6M295.5 450.97h2.6M295.5 444.33h2.6M295.5 437.69h2.6M295.5 431.06h2.6M295.5 424.43h2.6M295.5 417.79h2.6M295.5 411.16h2.6M295.5 404.52h2.6M295.5 397.88h2.6M295.5 391.25h2.6M295.5 384.62h2.6M295.5 377.98h2.6M295.5 371.35h2.6M295.5 364.71h2.6M295.5 358.07h2.6M295.5 351.44h2.6M295.5 344.81h2.6M295.5 338.17h2.6M295.5 331.53h2.6M295.5 324.9h2.6M311.71 457.6v-2.6M327.93 457.6v-2.6M344.14 457.6v-2.6M360.36 457.6v-2.6M376.57 457.6v-2.6M392.79 457.6v-2.6M409 457.6v-2.6M425.22 457.6v-2.6M441.44 457.6v-2.6" stroke="#111" stroke-width="0.9" fill="none"/>
<text x="288.6" y="460.7" text-anchor="end" font-family='"Liberation Serif", serif' font-weight="bold" font-size="9.3" letter-spacing="0.35">0</text>
<text x="288.6" y="434.16" text-anchor="end" font-family='"Liberation Serif", serif' font-weight="bold" font-size="9.3" letter-spacing="0.35">20</text>
<text x="288.6" y="407.62" text-anchor="end" font-family='"Liberation Serif", serif' font-weight="bold" font-size="9.3" letter-spacing="0.35">40</text>
<text x="288.6" y="381.08" text-anchor="end" font-family='"Liberation Serif", serif' font-weight="bold" font-size="9.3" letter-spacing="0.35">60</text>
<text x="288.6" y="354.54" text-anchor="end" font-family='"Liberation Serif", serif' font-weight="bold" font-size="9.3" letter-spacing="0.35">80</text>
<text x="288.6" y="328" text-anchor="end" font-family='"Liberation Serif", serif' font-weight="bold" font-size="9.3" letter-spacing="0.35">100</text>
<text x="295.2" y="474.8" text-anchor="middle" font-family='"Liberation Serif", serif' font-weight="bold" font-size="9.2" letter-spacing="0.6">0</text>
<text x="358.2" y="474.8" text-anchor="middle" font-family='"Liberation Serif", serif' font-weight="bold" font-size="9.2" letter-spacing="0.6">200</text>
<text x="425.2" y="474.8" text-anchor="middle" font-family='"Liberation Serif", serif' font-weight="bold" font-size="9.2" letter-spacing="0.6">400</text>
<text x="301.8" y="490.4" font-family='"Liberation Sans", sans-serif' font-size="12.8">Mitomycin C (ng/mL)</text>
<rect x="443.2" y="337.6" width="73.8" height="94" fill="#fff" stroke="#222" stroke-width="0.8"/>
<path d="M448.6 343.0H459.4" stroke="#000" stroke-width="1.1"/>
<rect x="451.84" y="340.84" width="4.32" height="4.32" fill="#000"/>
<text x="460.8" y="345.4" font-family='"Liberation Serif", serif' font-weight="bold" font-size="6.4" letter-spacing="0.4" stroke="#000" stroke-width="0.15">MEF vector</text>
<path d="M448.6 358.1H459.4" stroke="#000" stroke-width="1.1"/>
<circle cx="454" cy="358.1" r="2.16" fill="#000"/>
<text x="460.8" y="360.5" font-family='"Liberation Serif", serif' font-weight="bold" font-size="6.4" letter-spacing="0.4" stroke="#000" stroke-width="0.15">MEF FlagRAX</text>
<path d="M448.6 373.0H459.4" stroke="#000" stroke-width="1.1"/>
<path d="M454 370.39L456.61 375.09H451.39Z" fill="#000"/>
<text x="460.8" y="375.4" font-family='"Liberation Serif", serif' font-weight="bold" font-size="6.4" letter-spacing="0.4" stroke="#000" stroke-width="0.15">MEF</text>
<text x="460.8" y="382.6" font-family='"Liberation Serif", serif' font-weight="bold" font-size="6.4" letter-spacing="0.4" stroke="#000" stroke-width="0.15">FlagRAX(S18A)</text>
<path d="M448.6 388.4H459.4" stroke="#000" stroke-width="1.1"/>
<rect x="452.02" y="386.42" width="3.96" height="3.96" fill="#fff" stroke="#000" stroke-width="0.81"/>
<text x="460.8" y="390.8" font-family='"Liberation Serif", serif' font-weight="bold" font-size="6.4" letter-spacing="0.4" stroke="#000" stroke-width="0.15">FANCC-/- vector</text>
<path d="M448.6 404.5H459.4" stroke="#000" stroke-width="1.1"/>
<circle cx="454" cy="404.5" r="2.07" fill="#fff" stroke="#000" stroke-width="0.81"/>
<text x="460.8" y="406.9" font-family='"Liberation Serif", serif' font-weight="bold" font-size="6.4" letter-spacing="0.4" stroke="#000" stroke-width="0.15">FANCC-/-</text>
<text x="460.8" y="414.1" font-family='"Liberation Serif", serif' font-weight="bold" font-size="6.4" letter-spacing="0.4" stroke="#000" stroke-width="0.15">FlagRAX</text>
<path d="M448.6 419.0H459.4" stroke="#000" stroke-width="1.1"/>
<path d="M454 416.57L456.43 420.94H451.57Z" fill="#fff" stroke="#000" stroke-width="0.81"/>
<text x="460.8" y="421.4" font-family='"Liberation Serif", serif' font-weight="bold" font-size="6.4" letter-spacing="0.4" stroke="#000" stroke-width="0.15">FANCC-/-</text>
<text x="460.8" y="428.6" font-family='"Liberation Serif", serif' font-weight="bold" font-size="6.4" letter-spacing="0.4" stroke="#000" stroke-width="0.15">FlagRAX(S18A)</text>
</g>
</svg></body></html>
